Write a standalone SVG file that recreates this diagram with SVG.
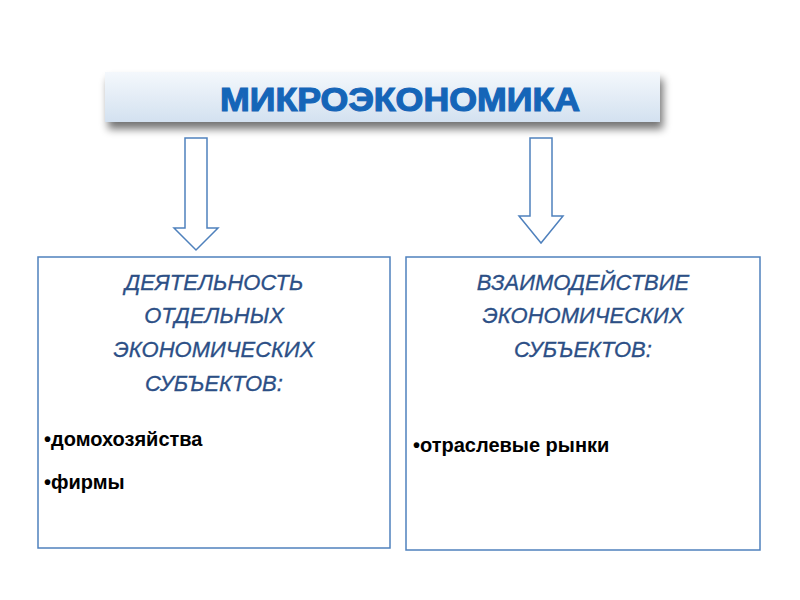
<svg xmlns="http://www.w3.org/2000/svg" width="800" height="600" viewBox="0 0 800 600">
<defs>
<linearGradient id="bg" x1="0" y1="0" x2="0" y2="1"><stop offset="0" stop-color="#f4f8fc"/><stop offset="1" stop-color="#d3e1f0"/></linearGradient>
<filter id="sh" x="-10%" y="-30%" width="120%" height="180%"><feGaussianBlur in="SourceAlpha" stdDeviation="4"/><feOffset dx="3" dy="7"/><feComponentTransfer><feFuncA type="linear" slope="0.55"/></feComponentTransfer><feMerge><feMergeNode/><feMergeNode in="SourceGraphic"/></feMerge></filter>
<style>
.box{fill:#fff;stroke:#4f81bd;stroke-width:1.5}
.arr{fill:#fff;stroke:#4f81bd;stroke-width:1.5}
.hd{font-family:"Liberation Sans",sans-serif;font-style:italic;font-size:22px;fill:#2c4f86;text-anchor:middle;stroke:#2c4f86;stroke-width:0.3}
.bl{font-family:"Liberation Sans",sans-serif;font-weight:bold;font-size:20px;fill:#000}
.tt{font-family:"Liberation Sans",sans-serif;font-weight:bold;font-size:34px;fill:#1565b8;stroke:#1565b8;stroke-width:1.2}
</style>
</defs>
<g id="title">
<rect x="105" y="72" width="555" height="50" fill="url(#bg)" filter="url(#sh)"/>
<text class="tt" x="400" y="111" text-anchor="middle" textLength="360" lengthAdjust="spacingAndGlyphs">МИКРОЭКОНОМИКА</text>
</g>
<g id="connectors">
<polygon class="arr" points="185,138 207,138 207,228 218,228 196,250 174,228 185,228"/>
<polygon class="arr" points="530,138 552,138 552,216 563,216 541,243 519,216 530,216"/>
</g>
<g id="left">
<rect class="box" x="38" y="257" width="352" height="291"/>
<text class="hd" x="214" y="290">ДЕЯТЕЛЬНОСТЬ</text>
<text class="hd" x="214" y="323">ОТДЕЛЬНЫХ</text>
<text class="hd" x="214" y="357">ЭКОНОМИЧЕСКИХ</text>
<text class="hd" x="214" y="391">СУБЪЕКТОВ:</text>
<text class="bl" x="44" y="446">•домохозяйства</text>
<text class="bl" x="44" y="489">•фирмы</text>
</g>
<g id="right">
<rect class="box" x="406" y="257" width="354" height="293"/>
<text class="hd" x="583" y="290">ВЗАИМОДЕЙСТВИЕ</text>
<text class="hd" x="583" y="323">ЭКОНОМИЧЕСКИХ</text>
<text class="hd" x="583" y="357">СУБЪЕКТОВ:</text>
<text class="bl" x="413" y="452">•отраслевые рынки</text>
</g>
</svg>
